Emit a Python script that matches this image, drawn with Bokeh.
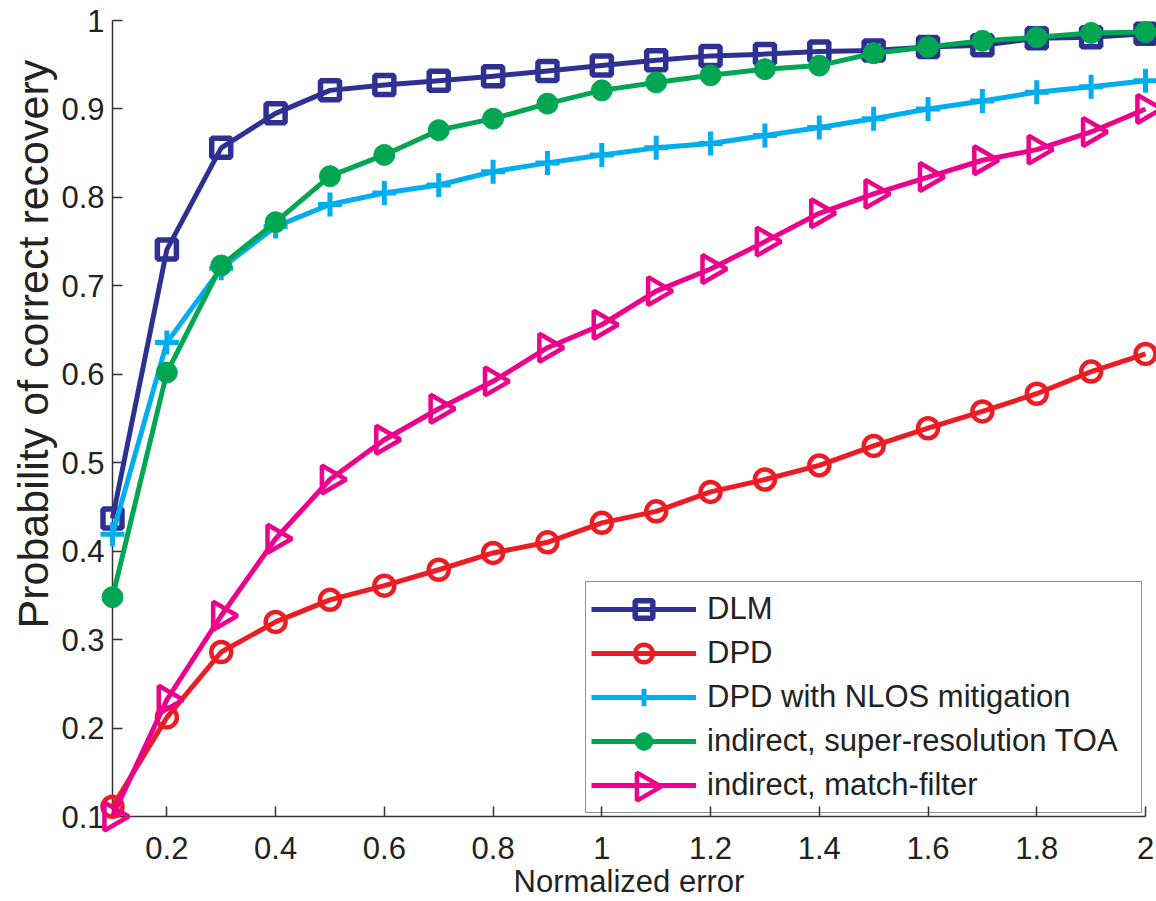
import numpy as np
from bokeh.plotting import figure
from bokeh.models import Range1d, FixedTicker, Legend, LegendItem, Title
from bokeh.embed import file_html
from bokeh.resources import INLINE

x_err = [0.1, 0.2, 0.3, 0.4, 0.5, 0.6, 0.7, 0.8, 0.9, 1.0,
         1.1, 1.2, 1.3, 1.4, 1.5, 1.6, 1.7, 1.8, 1.9, 2.0]
dlm = [0.437, 0.741, 0.856, 0.895, 0.921, 0.927, 0.932, 0.937, 0.943, 0.949,
       0.955, 0.960, 0.962, 0.965, 0.966, 0.970, 0.972, 0.980, 0.981, 0.985]
dpd = [0.111, 0.212, 0.286, 0.320, 0.345, 0.361, 0.379, 0.398, 0.410, 0.432,
       0.445, 0.467, 0.481, 0.497, 0.519, 0.539, 0.558, 0.578, 0.603, 0.623]
dpd_nlos = [0.419, 0.636, 0.720, 0.767, 0.792, 0.805, 0.814, 0.829, 0.839, 0.848,
            0.856, 0.861, 0.870, 0.879, 0.889, 0.900, 0.909, 0.919, 0.925, 0.932]
superres = [0.348, 0.602, 0.723, 0.772, 0.824, 0.848, 0.876, 0.889, 0.906, 0.921,
            0.930, 0.938, 0.945, 0.949, 0.963, 0.970, 0.977, 0.981, 0.986, 0.987]
matchf = [0.100, 0.232, 0.327, 0.414, 0.481, 0.526, 0.561, 0.592, 0.630, 0.656,
          0.694, 0.719, 0.750, 0.782, 0.804, 0.823, 0.842, 0.854, 0.874, 0.900]

labels = ["DLM", "DPD", "DPD with NLOS mitigation",
          "indirect, super-resolution TOA", "indirect, match-filter"]
x_ticks = [0.2, 0.4, 0.6, 0.8, 1.0, 1.2, 1.4, 1.6, 1.8, 2.0]
y_ticks = [0.1, 0.2, 0.3, 0.4, 0.5, 0.6, 0.7, 0.8, 0.9, 1.0]
x_title = "Normalized error"
y_title = "Probability of correct recovery"

FONT = "Liberation Sans"
TXT = "#222222"
X0, X1, Y0, Y1 = 0.1, 2.0, 0.1, 1.0
W, H = 1156, 901
BL, BR, BT, BB = 112, 11, 20, 83

p = figure(width=W, height=H, output_backend="svg", toolbar_location=None,
           x_range=Range1d(X0, X1), y_range=Range1d(Y0, Y1),
           min_border_left=BL, min_border_right=BR, min_border_top=BT,
           min_border_bottom=BB)
p.outline_line_color = None
p.grid.visible = False
p.background_fill_color = "white"

for ax in (p.xaxis[0], p.yaxis[0]):
    ax.major_tick_in = 10
    ax.major_tick_out = 0
    ax.minor_tick_in = 0
    ax.minor_tick_out = 0
    ax.axis_line_color = "#333333"
    ax.axis_line_width = 1.5
    ax.major_tick_line_color = "#333333"
    ax.major_tick_line_width = 1.5
    ax.major_label_text_font = FONT
    ax.major_label_text_font_size = "31px"
    ax.major_label_text_color = TXT
    ax.axis_label_text_font = FONT
    ax.axis_label_text_font_style = "normal"
    ax.axis_label_text_color = TXT

p.xaxis.ticker = FixedTicker(ticks=x_ticks)
p.yaxis.ticker = FixedTicker(ticks=y_ticks)
p.xaxis.major_label_overrides = {t: ("%g" % t) for t in x_ticks}
p.yaxis.major_label_overrides = {t: ("%g" % t) for t in y_ticks}
p.xaxis.axis_label = x_title
p.xaxis.axis_label_text_font_size = "31px"
p.xaxis.major_label_standoff = 20
p.xaxis.axis_label_standoff = 2
p.yaxis.major_label_standoff = 8

# y-axis title as a left-side title, starting ~188px above the frame bottom
p.add_layout(Title(text=y_title, align="left", offset=188, text_font=FONT,
                   text_font_size="43px", text_font_style="normal",
                   text_color=TXT, standoff=4), "left")

LW = 5
items = []
LVL = "annotation"

c = "#2E3192"
r1 = p.line(x_err, dlm, line_color=c, line_width=LW, level=LVL)
m1 = p.scatter(x_err, dlm, marker="square", size=19, line_color=c, line_width=5.5,
               fill_color=None, level=LVL)
items.append(LegendItem(label=labels[0], renderers=[r1, m1]))

c = "#ED1C24"
r2 = p.line(x_err, dpd, line_color=c, line_width=LW, level=LVL)
m2 = p.scatter(x_err, dpd, marker="circle", size=20, line_color=c, line_width=4.5,
               fill_color=None, level=LVL)
items.append(LegendItem(label=labels[1], renderers=[r2, m2]))

c = "#00AEEF"
r3 = p.line(x_err, dpd_nlos, line_color=c, line_width=LW, level=LVL)
m3 = p.scatter(x_err, dpd_nlos, marker="cross", size=24, line_color=c, line_width=5, level=LVL)
items.append(LegendItem(label=labels[2], renderers=[r3, m3]))

c = "#00A651"
r4 = p.line(x_err, superres, line_color=c, line_width=LW, level=LVL)
m4 = p.scatter(x_err, superres, marker="circle", size=21, line_color=c, fill_color=c,
               line_width=1, level=LVL)
items.append(LegendItem(label=labels[3], renderers=[r4, m4]))

c_mf = "#EC008C"
r5 = p.line(x_err, matchf, line_color=c_mf, line_width=LW, level=LVL)
m5 = p.scatter(x_err, matchf, marker="triangle", size=28, angle=-np.pi / 2,
               line_color=c_mf, line_width=4.5, fill_color=None, level=LVL)
items.append(LegendItem(label=labels[4], renderers=[r5]))

# legend geometry (screen px, relative to frame bottom-left)
LEG_X, LEG_Y, PAD, ROW, GW = 473, 3, 5, 44, 105
legend = Legend(items=items, location=(LEG_X, LEG_Y), orientation="vertical",
                glyph_width=GW, glyph_height=ROW, label_height=ROW,
                spacing=0, padding=PAD, margin=0, label_standoff=11,
                label_width=429,
                label_text_font=FONT, label_text_font_size="31px",
                label_text_color=TXT,
                border_line_color="#222222", border_line_width=1.5,
                background_fill_color="white", background_fill_alpha=0.0)
p.add_layout(legend, "center")

# right-pointing triangle symbol for the legend's last row (legend decoration)
fw, fh = W - BL - BR, H - BT - BB
cx = LEG_X + PAD + GW / 2 + 2
cy = LEG_Y + PAD + ROW / 2
p.scatter([X0 + cx / fw * (X1 - X0)], [Y0 + cy / fh * (Y1 - Y0)], marker="triangle",
          size=28, angle=-np.pi / 2, line_color=c_mf, line_width=4.5,
          fill_color=None, level="annotation")

open("out.html", "w").write(file_html(p, INLINE))
